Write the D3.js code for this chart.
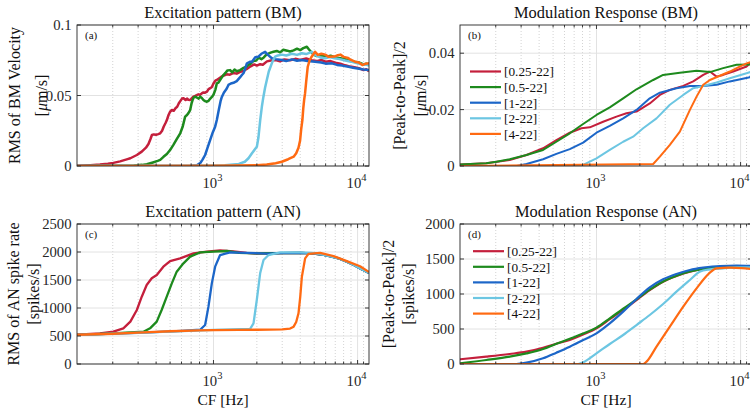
<!DOCTYPE html>
<html><head><meta charset="utf-8">
<script src="https://cdn.jsdelivr.net/npm/d3@7"></script>
<style>
body{margin:0;background:#fff}
svg{display:block;font-family:"Liberation Serif","Times New Roman",serif}
</style>
</head><body>
<svg id="fig" width="750" height="413" font-family="Liberation Serif, Times New Roman, serif"></svg>
<script>
// Stimulus bands (kHz) and their colours
const seriesNames = ["[0.25-22]", "[0.5-22]", "[1-22]", "[2-22]", "[4-22]"];
const seriesColors = ["#c41f3c", "#1d8a1d", "#1c66c8", "#6cc6e2", "#ff6a12"];

// Characteristic-frequency axis (Hz)
const cfDomain = [113, 12000];
const cfMajorTicks = [1000, 10000];
const cfMajorLabels = [["10", "3"], ["10", "4"]];
const cfMinorTicks = [200, 300, 400, 500, 600, 700, 800, 900, 2000, 3000, 4000, 5000, 6000, 7000, 8000, 9000, 11000];

// (a) RMS of BM velocity [um/s], points are [CF, value]
const bmRms025 = [[113,0.0002],[140,0.0006],[163,0.001],[185,0.0016],[202,0.0022],[225,0.0033],[250,0.0047],[265,0.0055],[294,0.0078],[318,0.0102],[340,0.013],[354,0.0156],[365,0.019],[374,0.022],[385,0.0224],[400,0.0222],[414,0.0226],[427,0.0232],[440,0.025],[452,0.028],[465,0.0305],[475,0.0326],[487,0.036],[500,0.0385],[515,0.0397],[530,0.0392],[545,0.041],[560,0.042],[575,0.0445],[590,0.0462],[605,0.0478],[620,0.048],[640,0.0468],[655,0.0478],[670,0.047],[689,0.0468],[707,0.048],[725,0.0492],[746,0.0497],[765,0.0502],[787,0.0508],[808,0.0505],[830,0.0515],[852,0.0522],[875,0.052],[900,0.0527],[925,0.0545],[950,0.0552],[975,0.056],[1000,0.0585],[1030,0.0605],[1055,0.061],[1090,0.062],[1130,0.0632],[1180,0.0642],[1237,0.065],[1300,0.0648],[1380,0.066],[1450,0.0655],[1532,0.0668],[1600,0.0672],[1703,0.0688],[1780,0.0702],[1850,0.0712],[1920,0.072],[2000,0.0712],[2108,0.0722],[2200,0.0718],[2350,0.0742],[2500,0.0748],[2700,0.0752],[2900,0.0742],[3100,0.0756],[3400,0.075],[3700,0.076],[4000,0.0752],[4400,0.0762],[4800,0.075],[5200,0.0744],[5600,0.0752],[6000,0.074],[6500,0.0744],[7000,0.0733],[7600,0.0725],[8200,0.0714],[8900,0.0705],[9500,0.07],[10200,0.0694],[11000,0.068],[11500,0.0686],[12000,0.0672]];
const bmRms05 = [[113,0],[200,0.0001],[280,0.0004],[320,0.0008],[345,0.0012],[380,0.0025],[410,0.0036],[427,0.0043],[450,0.0065],[475,0.0085],[500,0.0113],[527,0.015],[556,0.019],[588,0.0232],[612,0.028],[636,0.035],[655,0.0362],[670,0.0375],[689,0.0397],[705,0.0445],[718,0.047],[731,0.0487],[750,0.0492],[770,0.0484],[790,0.0478],[808,0.0492],[830,0.0482],[852,0.0468],[875,0.046],[900,0.0456],[925,0.0462],[950,0.0478],[975,0.049],[1000,0.0505],[1030,0.054],[1055,0.0586],[1083,0.0592],[1120,0.0615],[1150,0.0632],[1173,0.0645],[1210,0.066],[1250,0.0678],[1305,0.068],[1350,0.0664],[1400,0.0684],[1450,0.0672],[1532,0.068],[1600,0.0694],[1680,0.0703],[1750,0.0716],[1820,0.0728],[1896,0.0745],[1980,0.0748],[2060,0.0768],[2150,0.0758],[2225,0.0768],[2300,0.0785],[2420,0.0798],[2520,0.0806],[2609,0.081],[2750,0.0816],[2900,0.0806],[3050,0.0825],[3250,0.0818],[3400,0.0812],[3596,0.082],[3800,0.0832],[4000,0.0822],[4200,0.0836],[4446,0.0846],[4600,0.0826],[4800,0.0805],[4950,0.079],[5200,0.078],[5600,0.0786],[6000,0.0774],[6500,0.0782],[7000,0.077],[7600,0.0765],[8200,0.0758],[8900,0.0748],[9500,0.074],[10200,0.0734],[11000,0.072],[11500,0.0726],[12000,0.0714]];
const bmRms1 = [[113,0],[500,0],[700,0.0002],[766,0.0005],[808,0.002],[840,0.0045],[875,0.0078],[910,0.013],[948,0.0184],[990,0.024],[1027,0.0279],[1055,0.0326],[1090,0.040],[1120,0.046],[1143,0.049],[1180,0.052],[1237,0.055],[1270,0.0575],[1320,0.0585],[1377,0.059],[1450,0.0602],[1532,0.063],[1574,0.0645],[1620,0.066],[1660,0.069],[1703,0.0726],[1750,0.0734],[1800,0.074],[1845,0.0738],[1900,0.0756],[1950,0.0772],[2050,0.0775],[2150,0.0796],[2282,0.081],[2400,0.0786],[2540,0.0764],[2700,0.0758],[2980,0.0752],[3200,0.0744],[3500,0.0756],[3800,0.0746],[4100,0.0752],[4500,0.0744],[5070,0.074],[5600,0.0734],[6000,0.0726],[6630,0.0728],[7200,0.0717],[7800,0.0712],[8640,0.0704],[9300,0.0697],[10000,0.0692],[11000,0.0684],[12000,0.068]];
const bmRms2 = [[113,0],[700,0.0001],[1200,0.0005],[1500,0.0015],[1650,0.003],[1750,0.0055],[1850,0.009],[1950,0.0122],[2000,0.0137],[2050,0.02],[2110,0.0326],[2166,0.042],[2220,0.049],[2280,0.0555],[2345,0.061],[2420,0.067],[2540,0.0728],[2610,0.0755],[2680,0.0775],[2800,0.0784],[2980,0.079],[3200,0.0784],[3500,0.0796],[3800,0.0788],[4100,0.080],[4400,0.0794],[4800,0.081],[5100,0.0786],[5500,0.077],[5960,0.0764],[6400,0.0772],[6900,0.0764],[7500,0.0758],[8200,0.0748],[9000,0.074],[9800,0.073],[10800,0.072],[11500,0.0718],[12000,0.0714]];
const bmRms4 = [[113,0],[1000,0.0002],[2000,0.0006],[2343,0.001],[2700,0.002],[2980,0.003],[3300,0.0048],[3600,0.0066],[3750,0.009],[3890,0.013],[3990,0.018],[4060,0.026],[4140,0.0326],[4200,0.041],[4260,0.047],[4320,0.0515],[4400,0.06],[4510,0.0704],[4650,0.075],[4800,0.0775],[5070,0.081],[5300,0.0788],[5600,0.0796],[5960,0.079],[6300,0.0774],[6900,0.0776],[7300,0.0786],[7600,0.079],[8000,0.0774],[8600,0.0766],[9000,0.0752],[9600,0.074],[10200,0.0734],[10800,0.0716],[11400,0.0726],[12000,0.0728]];

// (b) Modulation response of BM [um/s]
const bmMod025 = [[113,0.0005],[172,0.001],[250,0.0021],[327,0.0039],[426,0.0063],[527,0.0092],[653,0.0118],[787,0.0134],[899,0.0137],[1112,0.0157],[1377,0.0175],[1615,0.0187],[1896,0.0193],[2343,0.0222],[2754,0.0252],[3230,0.027],[4000,0.0284],[4690,0.030],[5506,0.0323],[6125,0.0335],[6810,0.0317],[7570,0.0323],[8890,0.0335],[11000,0.0353],[12000,0.037]];
const bmMod05 = [[113,0.0005],[172,0.001],[202,0.0015],[250,0.0024],[327,0.0039],[426,0.0057],[527,0.0086],[653,0.0116],[808,0.0149],[1000,0.0181],[1237,0.0208],[1532,0.024],[1896,0.0272],[2475,0.0305],[2900,0.0323],[3790,0.0331],[4950,0.0338],[6125,0.0333],[7570,0.0347],[9390,0.0359],[12000,0.036]];
const bmMod1 = [[113,0],[280,0],[327,0.0007],[426,0.0024],[527,0.0043],[653,0.006],[808,0.0083],[1000,0.0118],[1237,0.0142],[1532,0.0169],[1896,0.0199],[2343,0.024],[2754,0.026],[3590,0.0276],[4450,0.0284],[5506,0.0284],[6810,0.0288],[8420,0.030],[11600,0.0315],[12000,0.0325]];
const bmMod2 = [[113,0],[726,0],[808,0.0004],[1000,0.0027],[1237,0.0057],[1532,0.0086],[1797,0.0104],[2108,0.0134],[2610,0.0169],[3230,0.0217],[4000,0.0252],[4690,0.0276],[5506,0.0284],[6810,0.0296],[8420,0.0311],[11000,0.0329],[12000,0.0335]];
const bmMod4 = [[113,0],[2475,0.0007],[2754,0.0033],[3230,0.0075],[3790,0.0122],[4450,0.0199],[4950,0.0246],[5506,0.0288],[6125,0.0305],[7180,0.032],[8420,0.0335],[9390,0.0347],[11000,0.0364],[12000,0.037]];

// (c) RMS of AN spike rate [spikes/s]
const anRms025 = [[113,524],[163,548],[202,577],[237,637],[265,756],[294,964],[318,1202],[344,1411],[373,1530],[404,1589],[449,1738],[500,1839],[587,1887],[727,1976],[899,2006],[1112,2030],[1377,2010],[1700,1985],[2000,1972],[2500,1976],[3000,1980],[4000,1986],[4800,1976],[5500,1960],[6500,1920],[7500,1880],[8500,1822],[9500,1762],[10500,1702],[11300,1660],[12000,1625]];
const anRms05 = [[113,520],[200,545],[327,577],[363,637],[404,756],[437,964],[474,1202],[514,1440],[556,1649],[619,1798],[689,1917],[808,1994],[1000,2006],[1237,2018],[1500,1985],[2000,1974],[2500,1978],[3000,1980],[4000,1986],[4800,1976],[5500,1960],[6500,1920],[7500,1880],[8500,1822],[9500,1762],[10500,1702],[11300,1660],[12000,1625]];
const anRms1 = [[113,520],[300,555],[600,592],[808,612],[875,696],[923,1024],[974,1440],[1027,1738],[1112,1946],[1305,1994],[1703,1985],[2343,1972],[3000,1980],[4000,1986],[4800,1976],[5500,1960],[6500,1920],[7500,1880],[8500,1822],[9500,1762],[10500,1702],[11300,1660],[12000,1625]];
const anRms2 = [[113,520],[500,578],[1000,608],[1797,628],[1896,726],[1998,1143],[2108,1619],[2225,1857],[2412,1946],[2900,1994],[3993,1994],[4800,1985],[5500,1962],[6500,1920],[7500,1880],[8500,1822],[9500,1762],[10500,1702],[11300,1660],[12000,1625]];
const anRms4 = [[113,522],[200,540],[300,560],[500,585],[800,600],[1000,605],[1500,610],[2000,612],[3000,618],[3400,632],[3600,667],[3750,750],[3890,905],[4000,1200],[4106,1559],[4325,1887],[4562,1966],[5500,1985],[6813,1925],[8420,1838],[10400,1745],[12000,1640]];

// (d) Modulation response of AN [spikes/s]
const anMod025 = [[113,67],[172,105],[250,143],[327,176],[426,232],[527,290],[653,343],[808,420],[1000,510],[1237,640],[1532,772],[1896,914],[2343,1057],[2900,1176],[3590,1257],[4450,1319],[5506,1357],[7180,1381],[9390,1390],[12000,1381]];
const anMod05 = [[113,10],[172,57],[250,105],[327,152],[426,214],[527,290],[653,360],[808,435],[1000,520],[1237,652],[1532,790],[1896,924],[2343,1062],[2900,1180],[3590,1260],[4450,1322],[5506,1360],[7180,1383],[9390,1392],[12000,1383]];
const anMod1 = [[113,0],[278,0],[327,19],[426,81],[527,162],[653,248],[808,343],[1000,438],[1237,581],[1532,748],[1896,929],[2343,1095],[2900,1210],[3590,1286],[4450,1343],[5506,1376],[7180,1400],[9390,1405],[12000,1400]];
const anMod2 = [[113,0],[746,0],[808,24],[1000,152],[1237,286],[1532,414],[1896,557],[2343,700],[2900,857],[3590,1033],[4450,1200],[5200,1319],[6125,1352],[7570,1367],[9390,1381],[12000,1381]];
const anMod4 = [[113,0],[2110,0],[2225,33],[2610,248],[3230,533],[4000,819],[4950,1081],[6125,1305],[6810,1367],[8420,1376],[10200,1371],[12000,1357]];

// Panel layout and axes definitions
const panels = [
  {x0: 77, y0: 25, w: 292, h: 141, title: "Excitation pattern (BM)", letter: "(a)",
   yDomain: [0, 0.1], yTicks: [0, 0.05, 0.1], yFmt: ["0", "0.05", "0.1"],
   yLab: [{t: "RMS of BM Velocity", x: 20}, {t: "unit", x: 47}],
   data: [bmRms025, bmRms05, bmRms1, bmRms2, bmRms4], width: 2.5, curve: d3.curveLinear},
  {x0: 460, y0: 25, w: 292, h: 141, title: "Modulation Response (BM)", letter: "(b)",
   yDomain: [0, 0.05], yTicks: [0, 0.02, 0.04], yFmt: ["0", "0.02", "0.04"],
   yLab: [{t: "[Peak-to-Peak]/2", x: 405}, {t: "unit", x: 426}],
   data: [bmMod025, bmMod05, bmMod1, bmMod2, bmMod4], width: 2, curve: d3.curveLinear,
   legend: {x: 470, y: 71.5}},
  {x0: 77, y0: 224, w: 292, h: 140, title: "Excitation pattern (AN)", letter: "(c)",
   yDomain: [0, 2500], yTicks: [0, 500, 1000, 1500, 2000, 2500], yFmt: ["0", "500", "1000", "1500", "2000", "2500"],
   yLab: [{t: "RMS of AN spike rate", x: 19}, {t: "[spikes/s]", x: 39}],
   data: [anRms025, anRms05, anRms1, anRms2, anRms4], width: 2.3, curve: d3.curveLinear, xlabel: true},
  {x0: 460, y0: 224, w: 292, h: 140, title: "Modulation Response (AN)", letter: "(d)",
   yDomain: [0, 2000], yTicks: [0, 500, 1000, 1500, 2000], yFmt: ["0", "500", "1000", "1500", "2000"],
   yLab: [{t: "[Peak-to-Peak]/2", x: 394}, {t: "[spikes/s]", x: 414}],
   data: [anMod025, anMod05, anMod1, anMod2, anMod4], width: 2.2, curve: d3.curveMonotoneX,
   legend: {x: 473, y: 251.2}, xlabel: true}
];

const svg = d3.select("#fig");
const axisColor = "#262626";

panels.forEach((p, pi) => {
  const x = d3.scaleLog().domain(cfDomain).range([p.x0, p.x0 + p.w]);
  const y = d3.scaleLinear().domain(p.yDomain).range([p.y0 + p.h, p.y0]);
  const g = svg.append("g");

  // minor grid (dotted) along CF
  g.selectAll(null).data(cfMinorTicks).join("line")
    .attr("x1", d => x(d)).attr("x2", d => x(d))
    .attr("y1", p.y0).attr("y2", p.y0 + p.h)
    .attr("stroke", "#c8c8c8").attr("stroke-width", 0.8).attr("stroke-dasharray", "1,2");
  // major grid
  g.selectAll(null).data(cfMajorTicks).join("line")
    .attr("x1", d => x(d)).attr("x2", d => x(d))
    .attr("y1", p.y0).attr("y2", p.y0 + p.h)
    .attr("stroke", "#e2e2e2").attr("stroke-width", 1);
  g.selectAll(null).data(p.yTicks).join("line")
    .attr("x1", p.x0).attr("x2", p.x0 + p.w)
    .attr("y1", d => y(d)).attr("y2", d => y(d))
    .attr("stroke", "#e2e2e2").attr("stroke-width", 1);

  // curves
  const clipId = "clip" + pi;
  svg.append("clipPath").attr("id", clipId).append("rect")
    .attr("x", p.x0).attr("y", p.y0).attr("width", p.w).attr("height", p.h);
  const line = d3.line().x(d => x(d[0])).y(d => y(d[1])).curve(p.curve);
  const cg = g.append("g").attr("clip-path", `url(#${clipId})`);
  p.data.forEach((s, i) => {
    cg.append("path").attr("d", line(s)).attr("fill", "none")
      .attr("stroke", seriesColors[i]).attr("stroke-width", p.width)
      .attr("stroke-linejoin", "round");
  });

  // box
  g.append("rect").attr("x", p.x0).attr("y", p.y0).attr("width", p.w).attr("height", p.h)
    .attr("fill", "none").attr("stroke", axisColor).attr("stroke-width", 0.9);

  // inward ticks on all four sides
  const tk = [];
  cfMajorTicks.forEach(t => { tk.push([x(t), p.y0 + p.h, x(t), p.y0 + p.h - 4]); tk.push([x(t), p.y0, x(t), p.y0 + 4]); });
  cfMinorTicks.forEach(t => { tk.push([x(t), p.y0 + p.h, x(t), p.y0 + p.h - 2.5]); tk.push([x(t), p.y0, x(t), p.y0 + 2.5]); });
  p.yTicks.forEach(t => { tk.push([p.x0, y(t), p.x0 + 4, y(t)]); tk.push([p.x0 + p.w, y(t), p.x0 + p.w - 4, y(t)]); });
  g.selectAll(null).data(tk).join("line")
    .attr("x1", d => d[0]).attr("y1", d => d[1]).attr("x2", d => d[2]).attr("y2", d => d[3])
    .attr("stroke", axisColor).attr("stroke-width", 0.9);

  // y tick labels
  g.selectAll(null).data(p.yTicks).join("text")
    .attr("x", p.x0 - 5.5).attr("y", d => y(d) + 5)
    .attr("text-anchor", "end").attr("font-size", 14.7).attr("fill", axisColor)
    .text((d, i) => p.yFmt[i]);

  // x tick labels 10^n
  cfMajorTicks.forEach((t, i) => {
    const tt = g.append("text").attr("x", x(t) - 1).attr("y", p.y0 + p.h + 22)
      .attr("text-anchor", "middle").attr("font-size", 14.7).attr("fill", axisColor);
    tt.append("tspan").text(cfMajorLabels[i][0]);
    tt.append("tspan").attr("dy", -7).attr("font-size", 10.5).text(cfMajorLabels[i][1]);
  });

  // title and panel letter
  g.append("text").attr("x", p.x0 + 146).attr("y", p.y0 - 7)
    .attr("text-anchor", "middle").attr("font-size", 16.4).attr("fill", "#111").text(p.title);
  g.append("text").attr("x", p.x0 + 8).attr("y", p.y0 + 14)
    .attr("font-size", 11).attr("fill", "#111").text(p.letter);

  // y-axis labels (rotated)
  const cy = p.y0 + p.h / 2;
  p.yLab.forEach(l => {
    const t = g.append("text").attr("transform", `translate(${l.x},${cy}) rotate(-90)`)
      .attr("text-anchor", "middle").attr("font-size", 16).attr("fill", "#111");
    if (l.t === "unit") {
      t.append("tspan").text("[");
      t.append("tspan").attr("font-style", "italic").text("μ");
      t.append("tspan").text("m/s]");
    } else t.text(l.t);
  });

  if (p.xlabel) {
    g.append("text").attr("x", p.x0 + 146).attr("y", 405)
      .attr("text-anchor", "middle").attr("font-size", 15.5).attr("fill", "#111").text("CF [Hz]");
  }

  if (p.legend) {
    const lg = g.append("g");
    seriesNames.forEach((n, i) => {
      const yy = p.legend.y + i * 15.6;
      lg.append("line").attr("x1", p.legend.x).attr("x2", p.legend.x + 31)
        .attr("y1", yy).attr("y2", yy).attr("stroke", seriesColors[i]).attr("stroke-width", 2.2);
      lg.append("text").attr("x", p.legend.x + 34).attr("y", yy + 4.8)
        .attr("font-size", 13.3).attr("fill", "#111").text(n);
    });
  }
});
</script>
</body></html>
